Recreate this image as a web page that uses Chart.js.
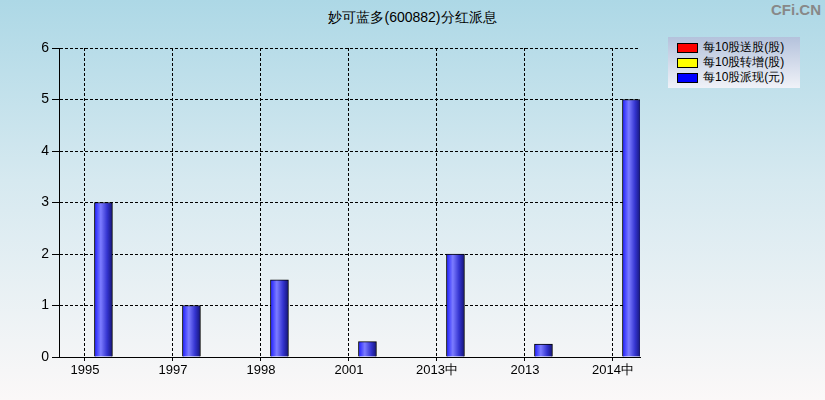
<!DOCTYPE html>
<html>
<head>
<meta charset="utf-8">
<script src="https://cdn.jsdelivr.net/npm/chart.js@4/dist/chart.umd.min.js"></script>
<style>
  html, body { margin: 0; padding: 0; }
  body {
    width: 825px; height: 400px; position: relative; overflow: hidden;
    background: linear-gradient(to bottom, #add8e6 0%, #d6e9f0 45%, #fbf8f8 100%);
    font-family: "Liberation Sans", Arial, sans-serif;
  }
  #title { position: absolute; top: 9px; left: 0; width: 825px; text-align: center; font-size: 14px; color: #000; }
  #mark { position: absolute; top: 1px; right: 4px; font-size: 15px; font-weight: bold; color: #888; }
  #legend {
    position: absolute; left: 668px; top: 37px; width: 132px; height: 51px;
    background: linear-gradient(to bottom, #b4c2dc, #f0f2f8);
    font-size: 12px; box-sizing: border-box; padding: 3px 0 0 9px;
  }
  .item { height: 15px; line-height: 15px; display: flex; align-items: center; }
  .sw { width: 21px; height: 10px; border: 1px solid #000; box-sizing: border-box; margin-right: 5px; }
  canvas { position: absolute; left: 0; top: 0; }
</style>
</head>
<body>
<div id="title">妙可蓝多(600882)分红派息</div>
<div id="mark">CFi.CN</div>
<div id="legend">
  <div class="item"><span class="sw" style="background:#ff0000"></span>每10股送股(股)</div>
  <div class="item"><span class="sw" style="background:#ffff00"></span>每10股转增(股)</div>
  <div class="item"><span class="sw" style="background:#0000ff"></span>每10股派现(元)</div>
</div>
<canvas id="chart" width="825" height="400"></canvas>
<script>
const labels = ['1995', '1997', '1998', '2001', '2013中', '2013', '2014中']
const cash = [3, 1, 1.5, 0.3, 2, 0.25, 5]
const yTicks = [0, 1, 2, 3, 4, 5, 6]

const barOffset = 0.21
const points = cash.map((v, i) => ({ x: i + barOffset, y: v }))

const barFill = c => {
  const s = c.chart.scales.x
  if (!s || c.dataIndex == null) return '#3333ff'
  const cx = s.getPixelForValue(points[c.dataIndex].x)
  if (!isFinite(cx)) return '#3333ff'
  const g = c.chart.ctx.createLinearGradient(cx - 9, 0, cx + 9, 0)
  g.addColorStop(0, '#1c1cff')
  g.addColorStop(0.35, '#7c7cff')
  g.addColorStop(0.7, '#3434d0')
  g.addColorStop(1, '#141478')
  return g
}

new Chart(document.getElementById('chart').getContext('2d'), {
  type: 'bar',
  data: {
    datasets: [{
      data: points,
      backgroundColor: barFill,
      borderColor: '#000',
      borderWidth: 1,
      barThickness: 18
    }]
  },
  options: {
    responsive: false,
    animation: false,
    layout: { padding: { top: 48, right: 185, left: 0, bottom: 0 } },
    plugins: { legend: { display: false }, tooltip: { enabled: false } },
    scales: {
      x: {
        type: 'linear',
        offset: false,
        min: -0.295,
        max: 6.307,
        afterBuildTicks: s => { s.ticks = labels.map((l, i) => ({ value: i })) },
        afterFit: s => { s.height = 43 },
        ticks: {
          color: '#000',
          font: { size: 13, family: '"Liberation Sans", Arial' },
          padding: 2,
          callback: (v, i) => labels[i],
          maxRotation: 0
        },
        grid: { offset: false, color: '#000', tickLength: 4, tickColor: '#000' },
        border: { display: true, color: '#000', dash: [3, 2], width: 1 }
      },
      y: {
        min: 0,
        max: 6,
        afterBuildTicks: s => { s.ticks = yTicks.map(v => ({ value: v })) },
        afterFit: s => { s.width = 59 },
        ticks: {
          color: '#000',
          font: { size: 14, family: '"Liberation Sans", Arial' },
          padding: 3
        },
        grid: { color: '#000', tickLength: 7, tickColor: '#000' },
        border: { display: true, color: '#000', dash: [3, 2], width: 1 }
      }
    }
  },
  plugins: [{
    id: 'axes',
    afterDraw: chart => {
      const { ctx, chartArea: a } = chart
      ctx.save()
      ctx.strokeStyle = '#000'
      ctx.lineWidth = 1
      ctx.setLineDash([])
      ctx.beginPath()
      ctx.moveTo(a.left + 0.5, a.top)
      ctx.lineTo(a.left + 0.5, a.bottom + 0.5)
      ctx.lineTo(a.right, a.bottom + 0.5)
      ctx.stroke()
      ctx.restore()
    }
  }]
})
</script>
</body>
</html>
